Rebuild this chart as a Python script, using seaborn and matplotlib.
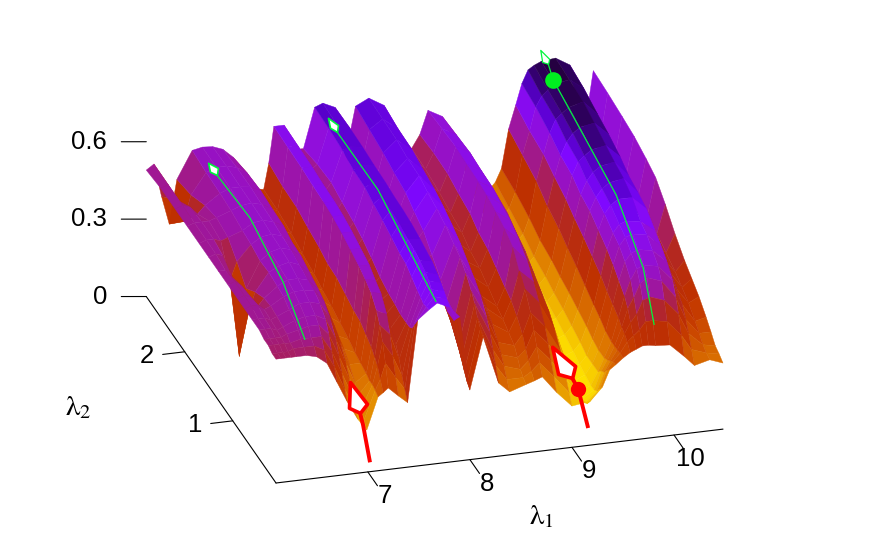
import numpy as np
import matplotlib
matplotlib.use("Agg")
import matplotlib.pyplot as plt
from matplotlib.colors import Normalize
from mpl_toolkits.mplot3d import proj3d
from mpl_toolkits.mplot3d.art3d import Poly3DCollection
import seaborn as sns

sns.set_theme(style="white")
plt.rcParams["font.family"] = ["Liberation Sans", "DejaVu Sans"]
plt.rcParams["mathtext.fontset"] = "stix"

# --- data -----------------------------------------------------------------
l1_offsets = [0, .05, .1, .15, .2, .3, .4, .5, .6, .7, .8, .89, 1.0, 1.05, 1.1, 1.2, 1.29, 1.39, 1.5, 1.58, 1.7,
              1.8, 1.9, 2.03, 2.18, 2.29, 2.45, 2.53, 2.61, 2.75, 2.9, 3.08, 3.2, 3.27, 3.33, 3.4, 3.47, 3.53, 3.59,
              3.65, 3.72, 3.86, 4.0, 4.1, 4.25, 4.38]
l2_offsets = [0, .08, .16, .25, .35, .5, .65, .8, 1.0, 1.2, 1.4, 1.6, 1.85, 2.1, 2.4, 2.7]
ridge_drift = [0, .01, .02, .035, .05, .065, .08, .09, .1, .11, .115, .125, .13, .14, .145, .15]
# one list per lambda_1 column, front to back
surface_z = [
    [.48, .48, .49, .49, .50, .50, .50, .50, .50, .50, .50, .50, .50, .50, .50, .49],
    [.48, .48, .49, .49, .50, .50, .51, .51, .51, .50, .51, .51, .51, .51, .51, .51],
    [.48, .48, .49, .49, .50, .50, .51, .50, .49, .47, .50, .51, .51, .50, .45, .38],
    [.48, .48, .49, .49, .49, .49, .49, .46, .38, .16, .40, .50, .51, .47, .36, .27],
    [.48, .49, .49, .50, .50, .50, .50, .49, .46, .42, .47, .51, .52, .50, .46, .44],
    [.48, .49, .50, .51, .52, .52, .53, .53, .53, .52, .53, .53, .54, .54, .54, .545],
    [.47, .49, .50, .52, .53, .54, .545, .55, .55, .55, .555, .555, .555, .555, .555, .553],
    [.44, .47, .50, .52, .53, .54, .545, .55, .56, .56, .56, .56, .56, .555, .555, .55],
    [.36, .40, .44, .48, .51, .53, .54, .54, .545, .55, .55, .55, .55, .55, .545, .535],
    [.28, .31, .35, .39, .43, .47, .49, .50, .51, .52, .52, .53, .53, .53, .52, .50],
    [.21, .23, .26, .30, .33, .37, .39, .40, .42, .43, .44, .44, .45, .45, .45, .44],
    [.163, .18, .20, .23, .25, .28, .30, .31, .33, .34, .34, .35, .36, .37, .37, .37],
    [.286, .29, .29, .28, .28, .28, .28, .29, .30, .31, .32, .33, .34, .35, .36, .36],
    [.30, .33, .36, .37, .38, .39, .40, .40, .41, .42, .42, .43, .44, .45, .45, .46],
    [.316, .39, .45, .49, .52, .55, .56, .57, .58, .59, .60, .60, .60, .60, .60, .60],
    [.28, .33, .39, .45, .50, .54, .55, .57, .58, .59, .60, .60, .60, .60, .60, .60],
    [.25, .28, .31, .35, .38, .40, .41, .42, .42, .44, .45, .46, .47, .48, .49, .50],
    [.566, .53, .49, .47, .46, .45, .45, .45, .46, .48, .50, .51, .52, .53, .52, .50],
    [.60, .59, .58, .58, .58, .59, .60, .60, .61, .62, .63, .64, .64, .65, .655, .655],
    [.622, .625, .63, .64, .645, .65, .65, .65, .655, .655, .655, .655, .655, .66, .665, .667],
    [.60, .61, .62, .625, .63, .64, .64, .645, .65, .65, .65, .65, .65, .65, .65, .645],
    [.558, .53, .50, .49, .48, .49, .50, .50, .51, .51, .50, .50, .49, .48, .46, .45],
    [.27, .28, .30, .32, .34, .38, .44, .48, .52, .56, .58, .60, .61, .62, .63, .64],
    [.469, .48, .50, .53, .55, .58, .60, .61, .63, .64, .65, .66, .66, .665, .665, .665],
    [.284, .33, .37, .41, .44, .48, .50, .52, .55, .57, .59, .60, .61, .62, .62, .63],
    [.244, .27, .30, .32, .34, .37, .39, .40, .42, .43, .45, .47, .48, .50, .51, .52],
    [.265, .27, .28, .30, .32, .33, .34, .35, .37, .39, .40, .42, .43, .44, .45, .45],
    [.275, .29, .31, .33, .36, .39, .41, .42, .44, .46, .47, .49, .50, .51, .51, .50],
    [.287, .32, .36, .40, .44, .49, .52, .57, .59, .60, .61, .61, .61, .61, .60, .59],
    [.22, .26, .30, .34, .38, .43, .47, .51, .54, .56, .57, .58, .58, .58, .57, .56],
    [.16, .19, .22, .25, .28, .32, .35, .37, .40, .43, .45, .47, .47, .46, .44, .42],
    [.17, .14, .12, .11, .11, .11, .12, .12, .13, .14, .15, .16, .17, .19, .21, .22],
    [.22, .19, .16, .14, .13, .13, .13, .14, .15, .16, .17, .18, .19, .21, .23, .25],
    [.283, .26, .23, .21, .18, .17, .16, .17, .18, .19, .20, .21, .22, .24, .26, .28],
    [.30, .29, .27, .25, .23, .22, .22, .23, .24, .25, .26, .27, .28, .30, .32, .33],
    [.322, .32, .31, .30, .29, .29, .30, .31, .33, .35, .37, .39, .41, .44, .46, .48],
    [.34, .36, .37, .37, .38, .39, .40, .42, .44, .46, .48, .50, .52, .54, .55, .57],
    [.35, .38, .41, .44, .46, .48, .50, .52, .54, .56, .57, .59, .60, .62, .64, .65],
    [.36, .40, .44, .48, .52, .55, .57, .58, .60, .61, .62, .64, .65, .67, .68, .70],
    [.36, .43, .49, .53, .56, .58, .60, .61, .63, .64, .65, .66, .68, .69, .70, .715],
    [.355, .43, .50, .55, .57, .59, .61, .62, .65, .66, .67, .68, .70, .71, .72, .727],
    [.351, .42, .48, .53, .56, .58, .60, .61, .65, .67, .68, .69, .71, .725, .73, .733],
    [.30, .36, .42, .46, .50, .53, .55, .57, .60, .61, .62, .64, .66, .67, .69, .70],
    [.26, .30, .34, .37, .40, .42, .44, .45, .46, .47, .47, .48, .48, .48, .49, .50],
    [.275, .28, .29, .31, .33, .36, .38, .40, .42, .44, .46, .48, .50, .50, .50, .50],
    [.256, .27, .28, .31, .34, .38, .41, .44, .49, .55, .60, .62, .64, .65, .66, .667],
]
palette_stops = ["#FFE800", "#FBD800", "#F0B400", "#E69400", "#DC7400", "#D05800", "#C84000", "#BE3000",
                 "#B82C10", "#B02430", "#A01890", "#9A12B8", "#9210D8", "#8008FF", "#5A00D0", "#340070",
                 "#200030", "#180020"]

l1_start, l1_end = 6.1, 10.48
l2_start, l2_end = 0.1, 2.8

# trajectories: (lambda_1, lambda_2, z)
green_a_l1 = 6.63
green_a_l2 = [.622, 1.08, 1.768, 2.456]
green_a_z = [.39, .492, .556, .538]
green_a_kite_l2 = [2.64, 2.435, 2.456, 2.60]
green_a_kite_z = [.536, .571, .538, .512]
green_b_l1 = 7.75
green_b_l2 = [.273, 1.48, 2.335]
green_b_z = [.577, .688, .684]
green_b_kite_l2 = [2.523, 2.315, 2.335, 2.48]
green_b_kite_z = [.688, .716, .684, .661]
green_c_l1 = 9.97
green_c_l2 = [.448, .677, 1.24, 2.552, 2.656]
green_c_z = [.335, .495, .627, .722, .756]
green_c_kite_l2 = [2.82, 2.635, 2.656, 2.78]
green_c_kite_z = [.766, .781, .756, .73]
green_dot = (9.97, 2.552, .722)
red_a_l1 = 7.08
red_a_l2 = [.225, .37, .433]
red_a_z = [.0, .106, .136]
red_a_kite_l2 = [.642, .2875, .433, .6625]
red_a_kite_z = [.2, .21, .136, .094]
red_b_l1 = 9.25
red_b_l2 = [.294, .502, .627]
red_b_z = [.011, .107, .116]
red_b_kite_l2 = [1.044, .565, .627, .919]
red_b_kite_z = [.125, .179, .116, .053]
red_dot = (9.25, .502, .107)

l1_ticks = [7, 8, 9, 10]
l2_ticks = [1, 2]
z_ticks = [0, 0.3, 0.6]
z_tick_labels = ["0", "0.3", "0.6"]

GREEN = "#00F53C"
RED = "#FF0000"

# --- figure ---------------------------------------------------------------
W, H = 872, 545
fig = plt.figure(figsize=(W / 100, H / 100), dpi=100)
ax = fig.add_subplot(projection="3d", proj_type="ortho", computed_zorder=False)
ax.set_xlim(l1_start, l1_end)
ax.set_ylim(l2_start, l2_end)
ax.set_zlim(0, .85)
ax.set_xticks([])
ax.set_yticks([])
ax.set_zticks([])
ax.set_box_aspect((465, 466, 241))
ax.view_init(elev=24.6, azim=-106.15)
ax.set_axis_off()
ax.patch.set_alpha(0)


def to_pixels(p):
    x, y, _ = proj3d.proj_transform(p[0], p[1], p[2], ax.get_proj())
    return ax.transData.transform((x, y))


def place(size, left, bottom):
    ax.set_position([left / W, bottom / H, size / W, size / H])
    ax.apply_aspect()


def label(p, text, **kw):
    q = to_pixels(p)
    fig.text(q[0] / W, q[1] / H, text, va="center", color="black", **kw)


origin, far = (l1_start, l2_start, 0), (l1_end, l2_start, 0)
size = 500.0
left, bottom = (W - size) / 2, (H - size) / 2
place(size, left, bottom)
size *= (723 - 276) / (to_pixels(far)[0] - to_pixels(origin)[0])
place(size, left, bottom)
o = to_pixels(origin)
left += 276 - o[0]
bottom += (H - 483) - o[1]
place(size, left, bottom)

# surface
offs1 = np.array(l1_offsets)
offs2 = np.array(l2_offsets)
weight = np.clip(np.minimum(offs1, offs1[-1] - offs1) / .3, 0, 1)
X = l1_start + offs1[None, :] + np.array(ridge_drift)[:, None] * weight[None, :]
Y = l2_start + offs2[:, None] * np.ones_like(offs1)[None, :]
Z = np.array(surface_z).T
cmap = sns.blend_palette(palette_stops, as_cmap=True)
norm = Normalize(.10, .78)
cell = (Z[:-1, :-1] + Z[1:, :-1] + Z[:-1, 1:] + Z[1:, 1:]) / 4
full = np.pad(cell, ((0, 1), (0, 1)), mode="edge")
surf = ax.plot_surface(X, Y, Z, facecolors=cmap(norm(full)), rstride=1, cstride=1, shade=False,
                       linewidth=.3, antialiased=True, zorder=1)

# axes drawn by hand
AXC = "black"
LW = .8
FS = 18.5
ax.plot([l1_start, l1_end], [l2_start, l2_start], [0, 0], color=AXC, lw=LW, zorder=2)
ax.plot([l1_start, l1_start], [l2_start, l2_end], [0, 0], color=AXC, lw=LW, zorder=2)
for t in l1_ticks:
    ax.plot([t, t], [l2_start, l2_start - .2], [0, 0], color=AXC, lw=LW, zorder=2)
    label((t, l2_start - .35, 0), str(t), ha="center", fontsize=FS)
for t in l2_ticks:
    ax.plot([l1_start, l1_start - .216], [t, t], [0, 0], color=AXC, lw=LW, zorder=2)
    label((l1_start - .37, t, 0), str(t), ha="center", fontsize=FS)
for t, lab in zip(z_ticks, z_tick_labels):
    ax.plot([l1_start, l1_start - .226], [l2_end, l2_end + .04], [t, t], color=AXC, lw=LW, zorder=2)
    label((l1_start - .353, l2_end + .063, t), lab, ha="right", fontsize=FS)
label((8.37, -.6, -.05), r"$\mathrm{\lambda}_1$", ha="center", fontsize=21)
label((4.82, 1.5, -.02), r"$\mathrm{\lambda}_2$", ha="center", fontsize=21)


def trajectory(l1, l2s, zs, kite_l2, kite_z, color, lw, kite_lw):
    ax.plot([l1] * len(l2s), l2s, zs, color=color, lw=lw, zorder=3, solid_capstyle="butt")
    verts = [list(zip([l1] * 4, kite_l2, kite_z))]
    ax.add_collection3d(Poly3DCollection(verts, facecolors="white", edgecolors=color, linewidths=kite_lw,
                                         zorder=4))


trajectory(green_a_l1, green_a_l2, green_a_z, green_a_kite_l2, green_a_kite_z, GREEN, .9, 1.2)
trajectory(green_b_l1, green_b_l2, green_b_z, green_b_kite_l2, green_b_kite_z, GREEN, .9, 1.2)
trajectory(green_c_l1, green_c_l2, green_c_z, green_c_kite_l2, green_c_kite_z, GREEN, .9, .9)
trajectory(red_a_l1, red_a_l2, red_a_z, red_a_kite_l2, red_a_kite_z, RED, 2.8, 2.6)
trajectory(red_b_l1, red_b_l2, red_b_z, red_b_kite_l2, red_b_kite_z, RED, 2.8, 2.6)
ax.plot(*[[v] for v in green_dot], marker="o", ms=12, color="#00F020", mew=0, zorder=5)
ax.plot(*[[v] for v in red_dot], marker="o", ms=11, color=RED, mew=0, zorder=5)

fig.savefig("out.png", dpi=100)
